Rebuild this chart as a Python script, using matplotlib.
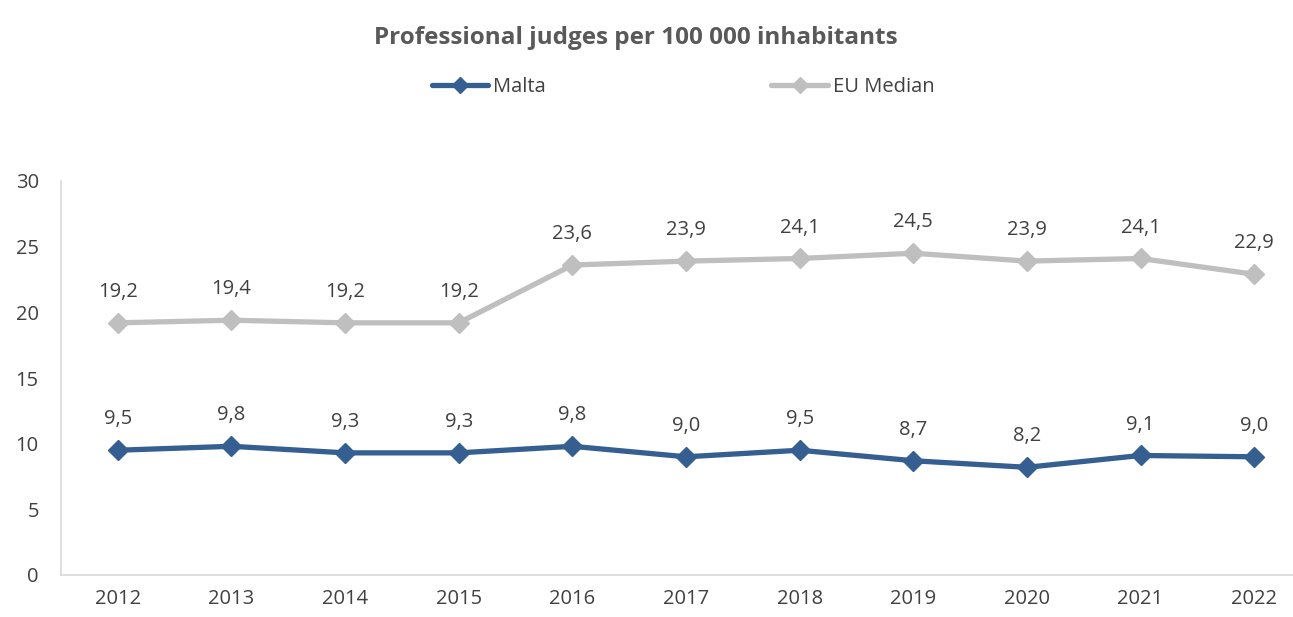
import numpy as np
import matplotlib.pyplot as plt

years = ["2012", "2013", "2014", "2015", "2016", "2017", "2018", "2019", "2020", "2021", "2022"]
malta = [9.5, 9.8, 9.3, 9.3, 9.8, 9.0, 9.5, 8.7, 8.2, 9.1, 9.0]
eu_median = [19.2, 19.4, 19.2, 19.2, 23.6, 23.9, 24.1, 24.5, 23.9, 24.1, 22.9]

plt.rcParams['font.family'] = ['Open Sans', 'DejaVu Sans']

W, H = 1293, 617
fig = plt.figure(figsize=(W / 100, H / 100), dpi=100)
ax = fig.add_axes([61 / W, 1 - 575 / H, 1250 / W, (575 - 181) / H])

x = np.arange(len(years))
blue = "#355E91"
grey = "#BFBFBF"

ax.plot(x, malta, color=blue, lw=3.8, marker="D", ms=10, label="Malta",
        solid_capstyle="round", zorder=3)
ax.plot(x, eu_median, color=grey, lw=3.8, marker="D", ms=10, label="EU Median",
        solid_capstyle="round", zorder=3)

# data labels with decimal comma
for xi, v in zip(x, malta):
    ax.annotate(f"{v:.1f}".replace(".", ","), (xi, v), xytext=(0, 15),
                textcoords="offset points", ha="center", va="bottom",
                fontsize=14.5, color="#404040")
for xi, v in zip(x, eu_median):
    ax.annotate(f"{v:.1f}".replace(".", ","), (xi, v), xytext=(0, 15),
                textcoords="offset points", ha="center", va="bottom",
                fontsize=14.5, color="#404040")

ax.set_xlim(-0.5, 10.5)
ax.set_ylim(0, 30)
ax.set_yticks([0, 5, 10, 15, 20, 25, 30])
ax.set_xticks(x)
ax.set_xticklabels(years)
ax.tick_params(axis="both", length=0, labelsize=14.5, labelcolor="#404040")
ax.tick_params(axis="x", pad=10)
ax.tick_params(axis="y", pad=16)
for lab in ax.get_yticklabels():
    lab.set_horizontalalignment("right")

for s in ["top", "right"]:
    ax.spines[s].set_visible(False)
ax.spines["left"].set_color("#D9D9D9")
ax.spines["bottom"].set_color("#D9D9D9")
ax.spines["left"].set_linewidth(1.2)
ax.spines["bottom"].set_linewidth(1.2)

fig.text(636 / W, 1 - 38 / H, "Professional judges per 100 000 inhabitants",
         ha="center", va="center", fontsize=17.5, fontweight="bold", color="#595959")

leg = fig.legend(loc="center", bbox_to_anchor=(683 / W, 1 - 87 / H), ncol=2,
                 frameon=False, fontsize=14.5, handlelength=2.8, columnspacing=11.2,
                 handletextpad=0.25, labelcolor="#404040", markerscale=0.8)

fig.savefig("out.png", dpi=100)
